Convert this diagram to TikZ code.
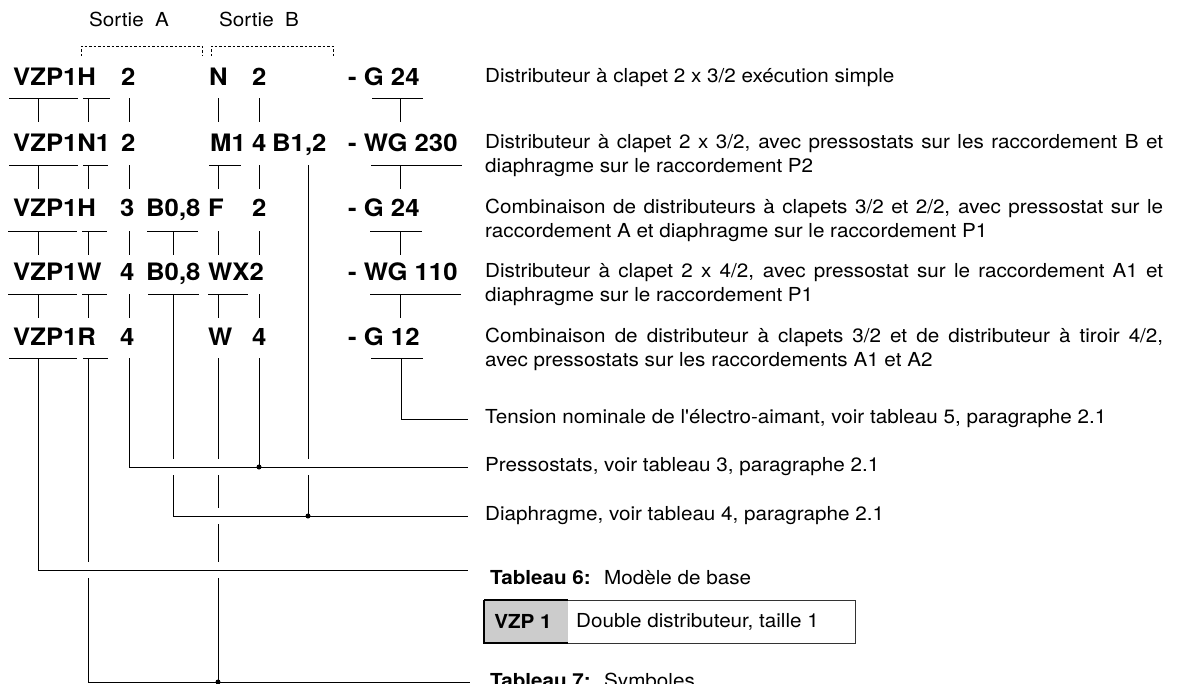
\documentclass[tikz,border=0pt]{standalone}
\usepackage{fontspec}
\setmainfont{TeX Gyre Heros}
\newfontfamily\helvwide[FakeStretch=1.07]{TeX Gyre Heros}
\usepackage{tikz}

\newcommand{\codefont}{\helvwide\fontsize{24}{28}\selectfont\bfseries}
\newcommand{\descfont}{\helvwide\fontsize{19.3}{24}\selectfont}
% tee under a code part: left, right, stem x, y
\newcommand{\codetee}[4]{\draw[rule] (#1,#4) -- (#2,#4) (#3,#4) -- (#3,#4+24);}
\newcommand{\codetick}[2]{\draw[rule] (#1,#2) -- (#1,#2+24);}

\begin{document}
\begin{tikzpicture}[x=1pt,y=-1pt,
    code/.style={anchor=base west,inner sep=0,font=\codefont},
    desc/.style={anchor=base west,inner sep=0,align=left,font=\descfont},
    desc2/.style={anchor=base west,inner sep=0,text width=678pt,align=justify,font=\descfont},
    lead/.style={anchor=west,inner sep=0,font=\descfont},
    rule/.style={line width=0.9pt},
    sortie/.style={line width=0.8pt,dash pattern=on 2.5pt off 2pt},
    junct/.style={circle,fill,inner sep=0,minimum size=5pt}]
    \useasboundingbox (0,0) rectangle (1180,683);

    % sorties
    \node[desc] (sa) at (89,26) {Sortie~~A};
    \node[desc] (sb) at (219,26) {Sortie~~B};
    \draw[sortie] (81,56) -- (81,46) -- (202,46) -- (202,56);
    \draw[sortie] (211,56) -- (211,46) -- (333,46) -- (333,56);

    % codes
    \node[code] (a1) at (13,85) {VZP1H};
    \node[code] (a2) at (121,85) {2};
    \node[code] (a3) at (209,85) {N};
    \node[code] (a4) at (252,85) {2};
    \node[code] (a5) at (348,85) {- G 24};

    \node[code] (b1) at (13,151) {VZP1N1};
    \node[code] (b2) at (121,151) {2};
    \node[code] (b3) at (210,151) {M1};
    \node[code] (b4) at (252,151) {4};
    \node[code] (b5) at (272,151) {B1,2};
    \node[code] (b6) at (348,151) {- WG 230};

    \node[code] (c1) at (13,216) {VZP1H};
    \node[code] (c2) at (120,216) {3};
    \node[code] (c3) at (146,216) {B0,8};
    \node[code] (c4) at (208,216) {F};
    \node[code] (c5) at (252,216) {2};
    \node[code] (c6) at (348,216) {- G 24};

    \node[code] (d1) at (13,280) {VZP1W};
    \node[code] (d2) at (120,280) {4};
    \node[code] (d3) at (146,280) {B0,8};
    \node[code] (d4) at (208,280) {WX2};
    \node[code] (d5) at (348,280) {- WG 110};

    \node[code] (e1) at (13,345) {VZP1R};
    \node[code] (e2) at (120,345) {4};
    \node[code] (e3) at (208,345) {W};
    \node[code] (e4) at (252,345) {4};
    \node[code] (e5) at (348,345) {- G 12};

    % descriptions
    \node[desc] (ta) at (485,82) {Distributeur à clapet 2 x 3/2 exécution simple};
    \node[desc2] (tb) at (485,148) {Distributeur à clapet 2 x 3/2, avec pressostats sur les raccordement B et\linebreak diaphragme sur le raccordement P2};
    \node[desc2] (tc) at (485,213) {Combinaison de distributeurs à clapets 3/2 et 2/2, avec pressostat sur le\linebreak raccordement A et diaphragme sur le raccordement P1};
    \node[desc2] (td) at (485,277) {Distributeur à clapet 2 x 4/2, avec pressostat sur le raccordement A1 et\linebreak diaphragme sur le raccordement P1};
    \node[desc2] (te) at (485,342) {Combinaison de distributeur à clapets 3/2 et de distributeur à tiroir 4/2,\linebreak avec pressostats sur les raccordements A1 et A2};

    \node[lead] (tens) at (485,419) {Tension nominale de l'électro-aimant, voir tableau 5, paragraphe 2.1};
    \node[lead] (pres) at (485,467) {Pressostats, voir tableau 3, paragraphe 2.1};
    \node[lead] (diaph) at (485,516) {Diaphragme, voir tableau 4, paragraphe 2.1};
    \node[desc] (tab6) at (490,584) {\textbf{Tableau 6:}~ Modèle de base};
    \node[desc] (tab7) at (490,687) {\textbf{Tableau 7:}~ Symboles};

    % table 6
    \fill[black!20] (484,600) rectangle (568,643);
    \draw[line width=0.8pt,black!80] (484,600) rectangle (855,643);
    \draw[line width=1.8pt] (484,600) -- (484,643) -- (568,643);
    \draw[line width=1.2pt] (484,600) -- (568,600);
    \node[font=\descfont\bfseries] (vzp) at (523,621.5) {VZP 1};
    \node[lead] (dd) at (576,621.5) {Double distributeur, taille 1};

    % tees under the rows
    \codetee{9}{78}{38}{98} \codetee{83}{110}{88}{98}
    \codetick{129}{98} \codetick{218}{98} \codetick{259}{98}
    \codetee{372}{423}{400}{98}

    \codetee{9}{78}{38}{165} \codetee{83}{108}{88}{165}
    \codetick{129}{165} \codetee{209}{241}{218}{165} \codetick{259}{165}
    \codetee{371}{462}{400}{165}

    \codetee{8}{77}{38}{231} \codetee{82}{107}{88}{231}
    \codetick{129}{231} \codetee{147}{198}{173}{231}
    \codetick{218}{231} \codetick{259}{231}
    \codetee{370}{422}{400}{231}

    \codetee{8}{77}{38}{294} \codetee{82}{107}{88}{294}
    \codetick{129}{294} \codetick{259}{294}
    \codetee{208}{248}{218}{294}
    \codetee{370}{461}{400}{294}

    % last row and leaders
    \coordinate (m6) at (468,570);
    \coordinate (m7) at (470,682);
    \draw[rule] (9,358) -- (77,358) (83,358) -- (108,358) (371,358) -- (423,358);
    \draw[rule] (401,358) |- ([xshift=-17pt]tens.west);
    \draw[rule] (129,358) |- ([xshift=-17pt]pres.west);
    \draw[rule] (259,358) -- (259,467);
    \draw[rule] (148,294) -- (199,294) (173,294) -- (173,459) (173,475) |- ([xshift=-17pt]diaph.west);
    \draw[rule] (308,165) -- (308,459) (308,475) -- (308,516);
    \draw[rule] (38,358) |- (m6);
    \draw[rule] (88,358) -- (88,562) (88,578) |- (m7);
    \draw[rule] (218,358) -- (218,459) (218,475) -- (218,508)
        (218,524) -- (218,562) (218,578) -- (218,682);
    \node[junct] at (259,467) {};
    \node[junct] at (308,516) {};
    \node[junct] at (218,682) {};
\end{tikzpicture}
\end{document}
